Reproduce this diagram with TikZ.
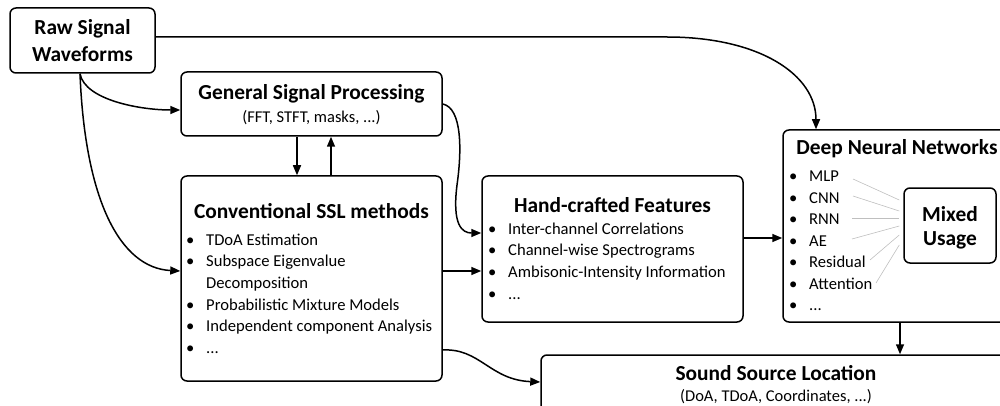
\documentclass[tikz,border=0pt]{standalone}
\usepackage{fontspec}
\setmainfont{Carlito}
\usetikzlibrary{arrows.meta}
% one bulleted line: name, bullet x, baseline y, text
\newcommand\bitem[4]{\node[itm] (#1) at (#2,#3) {\makebox[20pt][l]{\textbullet}#4};}
\begin{document}
\begin{tikzpicture}[x=1pt,y=-1pt,
  box/.style={draw, line width=1.5pt, rounded corners=6pt, inner sep=0pt},
  ttl/.style={font=\fontsize{21.4}{25}\selectfont\bfseries, inner sep=0pt, anchor=base},
  sub/.style={font=\fontsize{16.5}{19}\selectfont, inner sep=0pt, anchor=base},
  itm/.style={font=\fontsize{16.6}{19}\selectfont, inner sep=0pt, anchor=base west},
  arr/.style={line width=1.5pt, -{Triangle[length=10pt,width=8pt]}},
  gl/.style={black!25, line width=0.6pt}]

\useasboundingbox (0,0) rectangle (1000,406);

% boxes
\node[box, minimum width=145pt, minimum height=65pt]  (raw) at (82.5,40.5) {};
\node[box, minimum width=261pt, minimum height=64pt]  (gsp) at (311.5,104) {};
\node[box, minimum width=261pt, minimum height=205pt] (ssl) at (311.5,278.5) {};
\node[box, minimum width=261pt, minimum height=146pt] (hcf) at (612.5,249) {};
\node[box, minimum width=228pt, minimum height=192pt] (dnn) at (897,226) {};
\node[box, minimum width=92pt,  minimum height=75pt]  (mix) at (950,225.5) {};
\node[box, minimum width=470pt, minimum height=85pt]  (loc) at (776,397.5) {};

% raw signal
\node[ttl] (raw-t1) at (82.5,35) {Raw Signal};
\node[ttl] (raw-t2) at (82.5,62) {Waveforms};

% general signal processing
\node[ttl] (gsp-t) at (311.5,100) {General Signal Processing};
\node[sub] (gsp-s) at (311.5,123) {(FFT, STFT, masks, ...)};

% conventional methods
\node[ttl] (ssl-t) at (311.5,218) {Conventional SSL methods};
\bitem{ssl-1}{186}{245}{TDoA Estimation}
\bitem{ssl-2}{186}{266.7}{Subspace Eigenvalue}
\node[itm] (ssl-2b) at (206,288.3) {Decomposition};
\bitem{ssl-3}{186}{310}{Probabilistic Mixture Models}
\bitem{ssl-4}{186}{331.7}{Independent component Analysis}
\bitem{ssl-5}{186}{353.3}{...}

% hand-crafted features
\node[ttl] (hcf-t) at (612.5,212) {Hand-crafted Features};
\bitem{hcf-1}{488}{234}{Inter-channel Correlations}
\bitem{hcf-2}{488}{255.7}{Channel-wise Spectrograms}
\bitem{hcf-3}{488}{277.4}{Ambisonic-Intensity Information}
\bitem{hcf-4}{488}{299}{...}

% deep neural networks
\node[ttl] (dnn-t) at (897,155) {Deep Neural Networks};
\bitem{dnn-1}{789}{181.5}{MLP}
\bitem{dnn-2}{789}{203}{CNN}
\bitem{dnn-3}{789}{224.5}{RNN}
\bitem{dnn-4}{789}{246}{AE}
\bitem{dnn-5}{789}{267.5}{Residual}
\bitem{dnn-6}{789}{289}{Attention}
\bitem{dnn-7}{789}{310.5}{...}

\node[ttl] (mix-t1) at (950,221) {Mixed};
\node[ttl] (mix-t2) at (950,245) {Usage};

% sound source location
\node[ttl] (loc-t) at (776,380) {Sound Source Location};
\node[sub] (loc-s) at (776,401) {(DoA, TDoA, Coordinates, ...)};

% thin links from the network types to the mixed-usage box
\coordinate (g1) at (853,179);
\coordinate (g2) at (853,196);
\coordinate (g3) at (852,218);
\coordinate (g4) at (852,239);
\coordinate (g5) at (870,260);
\coordinate (g6) at (876,283);
\draw[gl] (g1) -- ([xshift=-4pt,yshift=25.5pt]mix.west);
\draw[gl] (g2) -- ([xshift=-4pt,yshift=14.5pt]mix.west);
\draw[gl] (g3) -- ([xshift=-4pt,yshift=7.5pt]mix.west);
\draw[gl] (g4) -- ([xshift=-4pt,yshift=-0.5pt]mix.west);
\draw[gl] (g5) -- ([xshift=-4pt,yshift=-9.5pt]mix.west);
\draw[gl] (g6) -- ([xshift=-4pt,yshift=-19.5pt]mix.west);

% connectors
\draw[arr] ([yshift=3.5pt]raw.east) -- (667,37)
  .. controls (760,37) and (816,75) .. ([xshift=-81pt]dnn.north);
\draw[arr] ([xshift=-2.5pt]raw.south) .. controls (85,100) and (140,110) .. ([yshift=-6pt]gsp.west);
\draw[arr] ([xshift=-2.5pt]raw.south) .. controls (85,200) and (120,268) .. ([yshift=7.5pt]ssl.west);
\draw[arr] ([xshift=-14.5pt]gsp.south) -- ([xshift=-14.5pt]ssl.north);
\draw[arr] ([xshift=19.5pt]ssl.north) -- ([xshift=19.5pt]gsp.south);
\draw[arr] (gsp.east) .. controls (462,108) and (462,150) .. (457,185)
  .. controls (452,225) and (462,233) .. ([yshift=16pt]hcf.west);
\draw[arr] ([yshift=7.5pt]ssl.east) -- ([yshift=-22pt]hcf.west);
\draw[arr] ([yshift=11pt]hcf.east) -- ([yshift=-12pt]dnn.west);
\draw[arr] ([xshift=3pt]dnn.south) -- ([xshift=124pt]loc.north);
\draw[arr] ([yshift=-71.5pt]ssl.east) .. controls (480,348) and (490,380) .. ([yshift=15.5pt]loc.west);
\end{tikzpicture}
\end{document}
